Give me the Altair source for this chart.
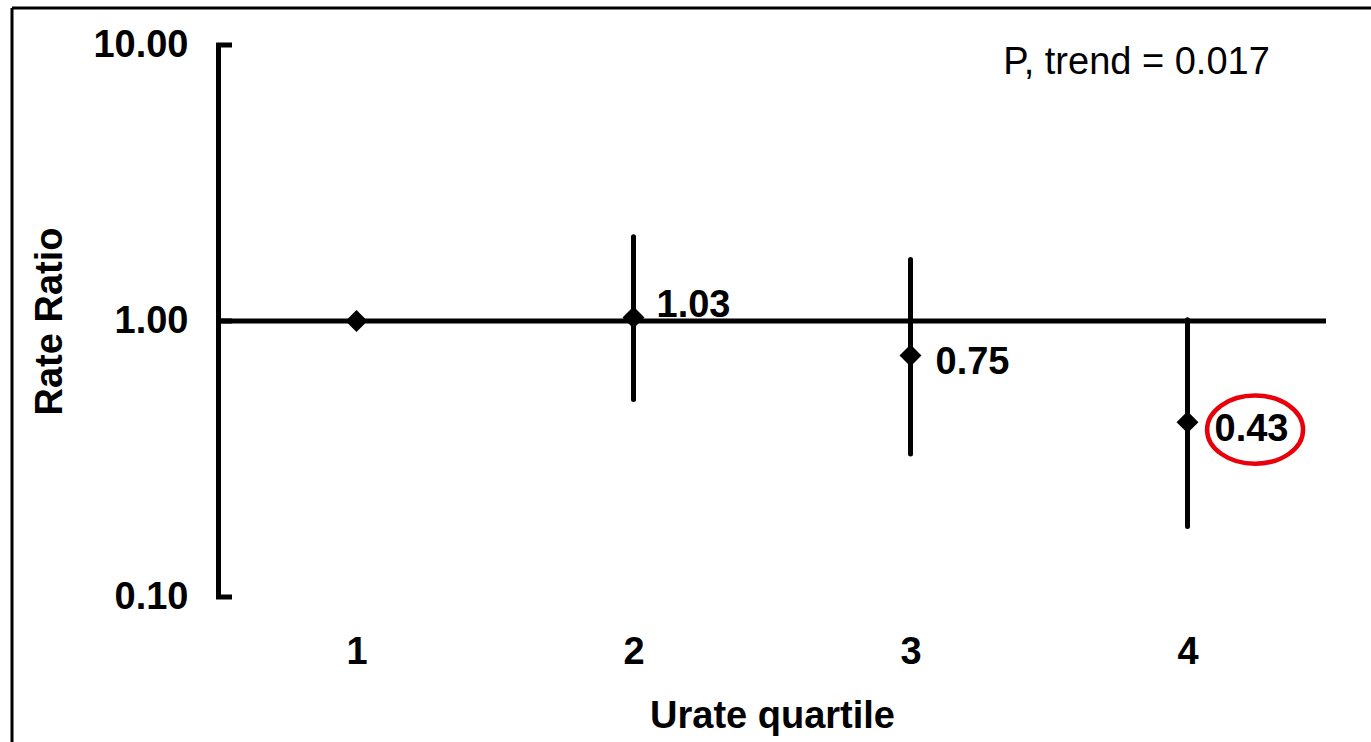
import altair as alt
import pandas as pd

# ---- data ----
quartiles = [1, 2, 3, 4]
rate_ratio = [1.00, 1.03, 0.75, 0.43]
ci_low = [None, 0.52, 0.33, 0.18]
ci_high = [None, 2.02, 1.67, 1.01]
value_labels = ["", "1.03", "0.75", "0.43"]
y_ticks = [0.1, 1.0, 10.0]
x_ticks = [1, 2, 3, 4]
p_trend_text = "P, trend = 0.017"

df = pd.DataFrame({"q": quartiles, "rr": rate_ratio, "lo": ci_low, "hi": ci_high, "lab": value_labels})
ticks_df = pd.DataFrame({"t": y_ticks})

FONT = "Liberation Sans"
FS = 38
W, H = 1108, 552
PAD_L, PAD_T = 218, 45

xs = alt.Scale(domain=[0.5, 4.5], nice=False, zero=False)
ys = alt.Scale(type="log", domain=[0.1, 10], nice=False)

base = alt.Chart(df)

x_axis = alt.Axis(values=x_ticks, format="d", grid=False, domain=False, ticks=False, tickSize=0,
                  labelFont=FONT, labelFontSize=FS, labelFontWeight="bold", labelColor="black",
                  labelPadding=36, title="Urate quartile", titleFont=FONT, titleFontSize=FS,
                  titleFontWeight="bold", titleColor="black", titleBaseline="alphabetic",
                  titleY=130, labelAngle=0)
y_axis = alt.Axis(values=y_ticks, format=".2f", grid=False, domain=True, domainColor="black",
                  domainWidth=5, ticks=False, tickSize=0,
                  labelFont=FONT, labelFontSize=FS, labelFontWeight="bold", labelColor="black",
                  labelPadding=30, title="Rate Ratio", titleFont=FONT, titleFontSize=FS,
                  titleFontWeight="bold", titleColor="black", titleX=-168, titleY=H / 2,
                  titleAngle=270, titleBaseline="middle", titleAlign="center")

# reference line at 1
ref = alt.Chart(pd.DataFrame({"y": [1.0], "x1": [0.5], "x2": [4.5]})).mark_rule(
    color="black", strokeWidth=5).encode(
    x=alt.X("x1:Q", scale=xs, axis=x_axis),
    x2="x2:Q",
    y=alt.Y("y:Q", scale=ys, axis=y_axis),
)

# inward ticks on y axis
yticks = alt.Chart(ticks_df).mark_rule(color="black", strokeWidth=5).encode(
    y=alt.Y("t:Q", scale=ys),
    x=alt.value(-2), x2=alt.value(14),
)

err = base.transform_filter("isValid(datum.lo)").mark_rule(
    color="black", strokeWidth=5, strokeCap="round").encode(
    x=alt.X("q:Q", scale=xs), y=alt.Y("lo:Q", scale=ys), y2="hi:Q")

pts = base.mark_point(shape="diamond", filled=True, color="black", size=480, opacity=1).encode(
    x=alt.X("q:Q", scale=xs), y=alt.Y("rr:Q", scale=ys))

label_offsets = {2: (23, -11), 3: (25, 8), 4: (27, 8)}
label_layers = []
for q, (dx, dy) in label_offsets.items():
    label_layers.append(
        base.transform_filter(f"datum.q == {q}").mark_text(
            align="left", baseline="middle", dx=dx, dy=dy, font=FONT, fontSize=FS,
            fontWeight="bold", color="black").encode(
            x=alt.X("q:Q", scale=xs), y=alt.Y("rr:Q", scale=ys), text="lab:N"))

ann = alt.Chart(pd.DataFrame({"x": [3.816], "y": [8.6], "t": [p_trend_text]})).mark_text(
    align="center", baseline="middle", font=FONT, fontSize=FS, color="black").encode(
    x=alt.X("x:Q", scale=xs), y=alt.Y("y:Q", scale=ys), text="t:N")

ellipse_path = "M -1 0 A 1 0.71 0 1 1 1 0 A 1 0.71 0 1 1 -1 0 Z"
ell = alt.Chart(pd.DataFrame({"x": [4.244], "y": [0.404]})).mark_point(
    shape=ellipse_path, size=96 * 96, filled=False, stroke="#e8000b", strokeWidth=4.5,
    opacity=1).encode(x=alt.X("x:Q", scale=xs), y=alt.Y("y:Q", scale=ys))

# frame lines (top and left) of the original figure
frame_top = alt.Chart(pd.DataFrame({"a": [0]})).mark_rule(color="black", strokeWidth=3).encode(
    x=alt.value(12 - PAD_L), x2=alt.value(1371 - PAD_L), y=alt.value(8 - PAD_T))
frame_left = alt.Chart(pd.DataFrame({"a": [0]})).mark_rule(color="black", strokeWidth=3).encode(
    x=alt.value(12 - PAD_L), y=alt.value(8 - PAD_T), y2=alt.value(742 - PAD_T))

chart = alt.layer(ref, yticks, err, pts, *label_layers, ann, ell, frame_top, frame_left).properties(
    width=W, height=H,
    autosize=alt.AutoSizeParams(type="none"),
    padding={"left": PAD_L, "top": PAD_T, "right": 1371 - PAD_L - W, "bottom": 742 - PAD_T - H},
    background="white",
).configure_view(stroke=None)

chart.save("out.html", embed_options={"renderer": "svg", "actions": False})
